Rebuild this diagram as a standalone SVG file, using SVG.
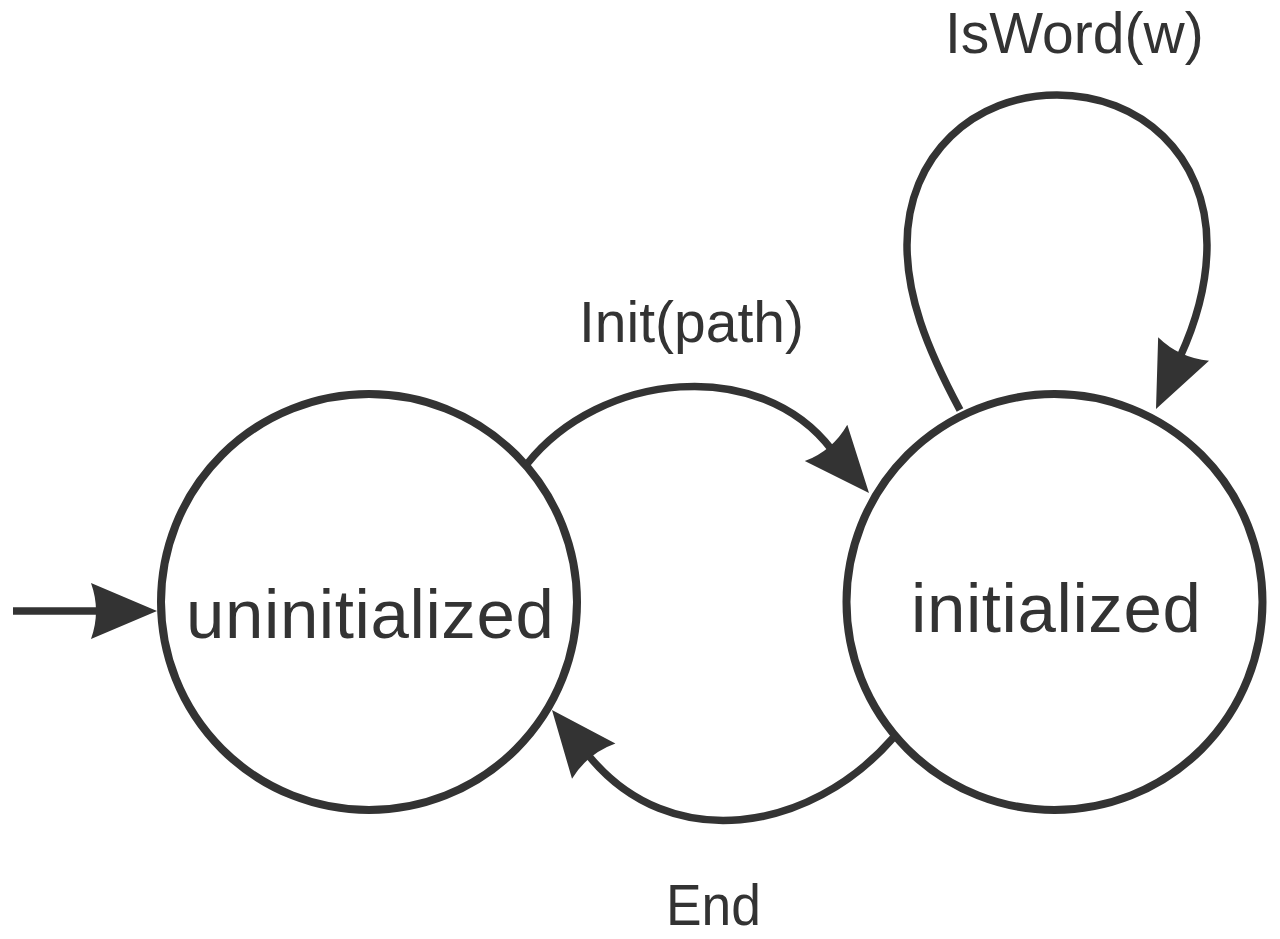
<svg xmlns="http://www.w3.org/2000/svg" xmlns:xlink="http://www.w3.org/1999/xlink" width="1280" height="939" viewBox="0 0 1280 939">
  <style>
    .state { fill: none; stroke: #333333; stroke-width: 8; }
    .edge { fill: none; stroke: #333333; stroke-width: 7.5; }
    .head { fill: #333333; stroke: none; }
    .lbl { font-family: "Liberation Sans", Arial, sans-serif; fill: #333333; }
    .big { font-size: 69px; letter-spacing: 0.6px; }
    .small { font-size: 57px; }
  </style>
  <defs>
    <path id="arrowhead" class="head" d="M0,0 L-66,-28 Q-56,0 -66,28 Z"/>
  </defs>
  <rect x="0" y="0" width="1280" height="939" fill="#ffffff"/>

  <g id="connectors">
    <g id="edge-start">
      <line class="edge" x1="13" y1="611" x2="98" y2="611" stroke-width="8"/>
      <use xlink:href="#arrowhead" transform="translate(157,611)"/>
    </g>
    <g id="edge-init">
      <path class="edge" d="M527,464 C600,372 760,355 832,450"/>
      <use xlink:href="#arrowhead" transform="translate(869,493) rotate(49.4)"/>
      <text class="lbl small" x="579" y="342">Init(path)</text>
    </g>
    <g id="edge-isword">
      <path class="edge" d="M960,410 C925,345 907,295 907,245 C907,155 974,95 1057,95 C1140,95 1207,155 1207,245 C1207,285 1197,320 1180,357"/>
      <use xlink:href="#arrowhead" transform="translate(1156,409) rotate(114.7)"/>
      <text class="lbl small" x="945" y="53">IsWord(w)</text>
    </g>
    <g id="edge-end">
      <path class="edge" d="M893,738 C810,833 670,855 589,756"/>
      <use xlink:href="#arrowhead" transform="translate(552,710) rotate(-129.2)"/>
      <text class="lbl small" x="666" y="925" textLength="95" lengthAdjust="spacingAndGlyphs">End</text>
    </g>
  </g>

  <g id="node-uninitialized">
    <circle class="state" cx="369" cy="602" r="208"/>
    <text class="lbl big" x="186" y="638">uninitialized</text>
  </g>
  <g id="node-initialized">
    <circle class="state" cx="1054.5" cy="602" r="208"/>
    <text class="lbl big" x="911" y="632">initialized</text>
  </g>
</svg>
